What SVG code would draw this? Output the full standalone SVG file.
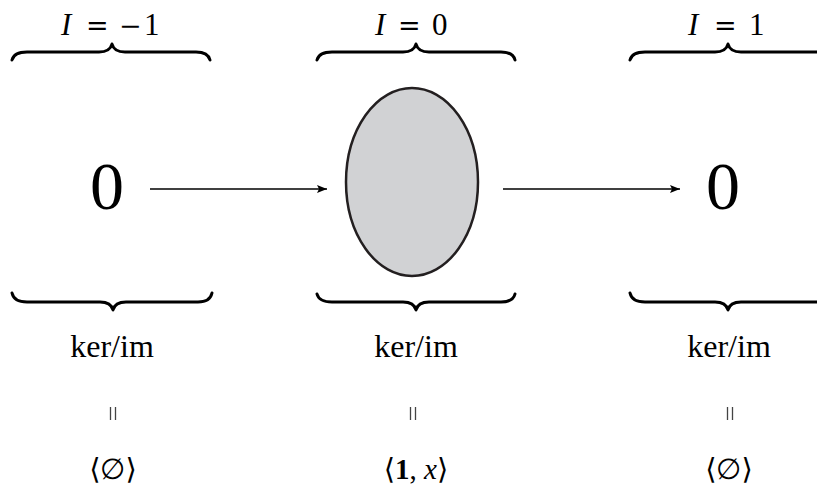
<svg xmlns="http://www.w3.org/2000/svg" width="817" height="491" viewBox="0 0 817 491">
<defs>
<style>
.t{font-family:"Liberation Serif","DejaVu Serif",serif;fill:#000}
.it{font-style:italic}
.top{font-size:31px}
.op{font-family:"DejaVu Serif",serif;font-size:27px}
.brace{fill:none;stroke:#000;stroke-width:3;stroke-linejoin:round;stroke-linecap:round}
.edge{fill:none;stroke:#000;stroke-width:1.3}
.eq{stroke:#444;stroke-width:1.3}
</style>
<marker id="ah" viewBox="0 0 10 8" refX="10" refY="4" markerWidth="10" markerHeight="8" markerUnits="userSpaceOnUse" orient="auto">
<path d="M0,0 L10,4 L0,8 L2,4 Z" fill="#000"/>
</marker>
</defs>
<rect width="817" height="491" fill="#fff"/>

<g id="col-left">
<text class="t top" y="35"><tspan class="it" x="61">I</tspan><tspan class="op" x="86">=</tspan><tspan class="op" x="119">−</tspan><tspan x="144">1</tspan></text>
<path class="brace" d="M12,60 Q14,52 27,52 L99,52 Q110,52 112,44 Q114,52 125,52 L196,52 Q208,52 210,60"/>
<text class="t" font-size="68" x="107" y="209" text-anchor="middle">0</text>
<path class="brace" d="M12,293 Q14,302 27,302 L100,302 Q111,302 113,310 Q115,302 126,302 L198,302 Q210,302 212,293"/>
<text class="t" font-size="32" x="112" y="357" text-anchor="middle">ker/im</text>
<path class="eq" d="M110.5,407 V420 M115.5,407 V420"/>
<text class="t" font-size="29" x="113" y="479" text-anchor="middle">⟨∅⟩</text>
</g>

<g id="col-mid">
<text class="t top" y="35"><tspan class="it" x="375">I</tspan><tspan class="op" x="398">=</tspan><tspan x="432">0</tspan></text>
<path class="brace" d="M317,60 Q319,52 332,52 L403,52 Q414,52 416,44 Q418,52 429,52 L501,52 Q513,52 515,60"/>
<ellipse id="blob" cx="412" cy="182" rx="66" ry="94" fill="#d1d2d4" stroke="#231f20" stroke-width="2.5"/>
<path class="brace" d="M317,294 Q319,302 332,302 L403,302 Q414,302 416,310 Q418,302 429,302 L501,302 Q513,302 515,294"/>
<text class="t" font-size="32" x="416" y="357" text-anchor="middle">ker/im</text>
<path class="eq" d="M410.5,407 V420 M415.5,407 V420"/>
<text class="t" font-size="29" x="416" y="479" text-anchor="middle">⟨<tspan font-weight="bold">1</tspan>, <tspan class="it">x</tspan>⟩</text>
</g>

<g id="col-right">
<text class="t top" y="35"><tspan class="it" x="688">I</tspan><tspan class="op" x="714">=</tspan><tspan x="749">1</tspan></text>
<path class="brace" d="M630,60 Q632,52 645,52 L715,52 Q726,52 728,44 Q730,52 741,52 L830,52"/>
<text class="t" font-size="68" x="723" y="209" text-anchor="middle">0</text>
<path class="brace" d="M630,293 Q632,302 645,302 L715,302 Q726,302 728,310 Q730,302 741,302 L830,302"/>
<text class="t" font-size="32" x="729" y="357" text-anchor="middle">ker/im</text>
<path class="eq" d="M727.5,407 V420 M732.5,407 V420"/>
<text class="t" font-size="29" x="729" y="479" text-anchor="middle">⟨∅⟩</text>
</g>

<g id="connectors">
<line class="edge" x1="150" y1="189" x2="327" y2="189" marker-end="url(#ah)"/>
<line class="edge" x1="503" y1="189" x2="680" y2="189" marker-end="url(#ah)"/>
</g>
</svg>
